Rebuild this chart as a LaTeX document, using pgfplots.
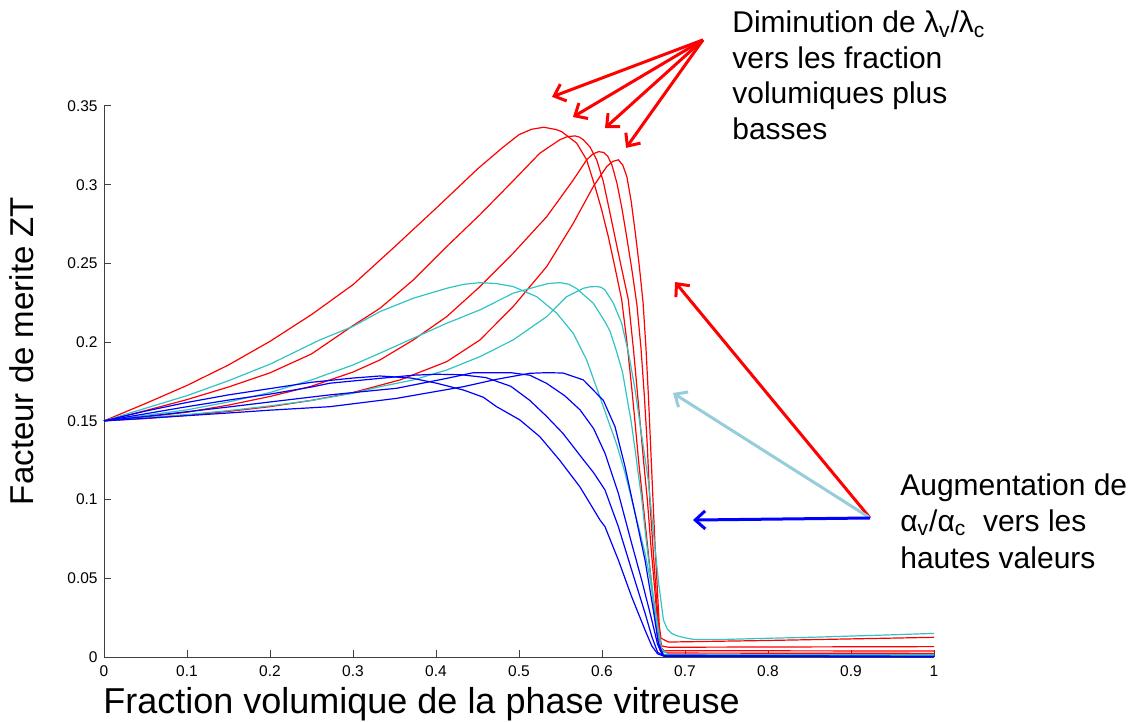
\documentclass[border=0pt]{standalone}
\usepackage{pgfplots}
\pgfplotsset{compat=1.18}
\usepackage{fontspec}
\setmainfont{Liberation Sans}
\usetikzlibrary{arrows.meta}
\definecolor{myred}{RGB}{255,0,0}
\definecolor{mycyan}{RGB}{50,195,195}
\definecolor{myblue}{RGB}{0,0,255}
\definecolor{lblue}{RGB}{150,205,220}
\newcommand\annfont{\fontsize{15bp}{18bp}\selectfont}
\begin{document}
\begin{tikzpicture}
\useasboundingbox (0,0) rectangle (570.5bp,361bp);
\begin{axis}[
  at={(52bp,32.5bp)}, anchor=south west,
  scale only axis, width=415bp, height=275.5bp,
  xmin=0, xmax=1, ymin=0, ymax=0.35,
  axis lines=left,
  axis line style={-, black!75, line width=0.5bp},
  every outer x axis line/.append style={-},
  every outer y axis line/.append style={-},
  clip=false,
  xtick={0,0.1,0.2,0.3,0.4,0.5,0.6,0.7,0.8,0.9,1},
  xticklabels={0,0.1,0.2,0.3,0.4,0.5,0.6,0.7,0.8,0.9,1},
  ytick={0,0.05,0.1,0.15,0.2,0.25,0.3,0.35},
  yticklabels={0,0.05,0.1,0.15,0.2,0.25,0.3,0.35},
  tick style={black!75, line width=0.5bp},
  major tick length=3.5bp, tick align=inside,
  ticklabel style={font=\fontsize{7.75bp}{9bp}\selectfont},
  xticklabel style={inner sep=0pt, yshift=-4bp},
  yticklabel style={inner sep=0pt, xshift=-3bp},
  every axis plot/.append style={line width=0.6bp, no markers},
]
% ---- red curves (lambda_v/lambda_c)
\addplot[myred] coordinates {(0,0.15) (0.05,0.161) (0.1,0.1725) (0.15,0.1855) (0.2,0.2005) (0.25,0.2175) (0.3,0.2365) (0.35,0.2605) (0.4,0.285) (0.45,0.31) (0.48,0.3235) (0.5,0.3318) (0.515,0.3352) (0.53,0.3365) (0.545,0.335) (0.5514,0.3337) (0.5695,0.3264) (0.5815,0.3158) (0.5916,0.2988) (0.5996,0.284) (0.6076,0.267) (0.615,0.249) (0.6237,0.227) (0.63,0.2) (0.636,0.17) (0.64,0.148) (0.644,0.125) (0.65,0.095) (0.656,0.065) (0.662,0.035) (0.667,0.012) (0.67,0.004) (0.68,0.0025) (1,0.0023)};
\addplot[myred] coordinates {(0,0.15) (0.05,0.1565) (0.1,0.1635) (0.15,0.1715) (0.2,0.1805) (0.25,0.1925) (0.3,0.2105) (0.3325,0.2215) (0.3727,0.2395) (0.4129,0.2607) (0.453,0.281) (0.493,0.3025) (0.525,0.32) (0.549,0.3285) (0.558,0.3305) (0.5675,0.331) (0.573,0.3302) (0.5775,0.3285) (0.5855,0.324) (0.5936,0.3158) (0.6016,0.302) (0.6096,0.282) (0.6197,0.2565) (0.6317,0.227) (0.638,0.195) (0.644,0.16) (0.65,0.125) (0.6546,0.1) (0.659,0.07) (0.664,0.04) (0.668,0.015) (0.671,0.006) (0.675,0.004) (1,0.0038)};
\addplot[myred] coordinates {(0,0.15) (0.05,0.1525) (0.1,0.1555) (0.15,0.16) (0.2,0.1655) (0.25,0.172) (0.3,0.181) (0.3325,0.1887) (0.3727,0.2014) (0.4129,0.2162) (0.453,0.2353) (0.493,0.2565) (0.5334,0.2797) (0.5654,0.303) (0.5815,0.3158) (0.589,0.3195) (0.596,0.321) (0.602,0.3205) (0.607,0.318) (0.612,0.3125) (0.618,0.301) (0.624,0.285) (0.63,0.266) (0.636,0.246) (0.642,0.224) (0.647,0.196) (0.651,0.166) (0.6545,0.135) (0.6575,0.1) (0.662,0.065) (0.666,0.035) (0.669,0.015) (0.672,0.007) (0.68,0.0062) (1,0.0066)};
\addplot[myred] coordinates {(0,0.15) (0.05,0.1515) (0.1,0.1535) (0.15,0.156) (0.2,0.159) (0.25,0.163) (0.3,0.168) (0.3566,0.176) (0.4129,0.1876) (0.453,0.2014) (0.493,0.2226) (0.5334,0.248) (0.5654,0.2755) (0.5895,0.2988) (0.6056,0.3115) (0.613,0.3148) (0.6197,0.3158) (0.625,0.3125) (0.63,0.305) (0.635,0.29) (0.64,0.27) (0.645,0.248) (0.6495,0.225) (0.653,0.196) (0.656,0.165) (0.6585,0.135) (0.661,0.105) (0.664,0.07) (0.667,0.04) (0.669,0.02) (0.671,0.012) (0.68,0.0095) (0.8,0.0105) (0.9,0.0115) (1,0.0125)};
% ---- cyan curves
\addplot[mycyan] coordinates {(0,0.15) (0.05,0.158) (0.1,0.166) (0.15,0.1755) (0.2,0.186) (0.26,0.2014) (0.3,0.21) (0.3325,0.2194) (0.3727,0.2279) (0.4129,0.2342) (0.433,0.2367) (0.453,0.2378) (0.473,0.2372) (0.493,0.2353) (0.5213,0.2289) (0.5454,0.2184) (0.5654,0.2056) (0.5815,0.1887) (0.5976,0.165) (0.6076,0.15) (0.6177,0.135) (0.6277,0.117) (0.6358,0.1) (0.6438,0.083) (0.6518,0.066) (0.6578,0.05) (0.663,0.032) (0.667,0.015) (0.67,0.005) (0.675,0.0015) (1,0.0012)};
\addplot[mycyan] coordinates {(0,0.15) (0.05,0.1535) (0.1,0.157) (0.15,0.162) (0.2,0.168) (0.25,0.176) (0.3,0.1855) (0.3325,0.193) (0.3727,0.2025) (0.4129,0.212) (0.453,0.2205) (0.493,0.2311) (0.5213,0.2353) (0.535,0.2372) (0.549,0.2378) (0.56,0.2368) (0.5695,0.234) (0.5895,0.2247) (0.6036,0.213) (0.6096,0.207) (0.617,0.195) (0.6247,0.181) (0.63,0.165) (0.635,0.15) (0.6398,0.132) (0.644,0.115) (0.648,0.1) (0.652,0.08) (0.6558,0.063) (0.662,0.038) (0.668,0.0175) (0.672,0.005) (0.68,0.0015) (1,0.0015)};
\addplot[mycyan] coordinates {(0,0.15) (0.05,0.152) (0.1,0.154) (0.15,0.1565) (0.2,0.1595) (0.25,0.163) (0.3,0.1675) (0.3325,0.1717) (0.3727,0.176) (0.4129,0.1823) (0.453,0.1908) (0.493,0.2014) (0.5334,0.2162) (0.5574,0.2289) (0.5775,0.2342) (0.586,0.2352) (0.594,0.2353) (0.599,0.2348) (0.6036,0.2332) (0.6137,0.2247) (0.6237,0.212) (0.632,0.193) (0.6398,0.17) (0.648,0.14) (0.6558,0.112) (0.6618,0.08) (0.668,0.048) (0.674,0.0235) (0.679,0.0175) (0.684,0.015) (0.69,0.0135) (0.7,0.0122) (0.71,0.0112) (0.75,0.0112) (0.8,0.0119) (0.85,0.0125) (0.9,0.0133) (0.95,0.0141) (1,0.015)};
% ---- blue curves
\addplot[myblue] coordinates {(0,0.15) (0.05,0.1562) (0.1,0.1617) (0.15,0.1665) (0.2,0.1705) (0.25,0.1745) (0.3,0.1772) (0.3325,0.1785) (0.37,0.1772) (0.4,0.174) (0.433,0.1696) (0.457,0.165) (0.473,0.159) (0.501,0.1506) (0.525,0.14) (0.549,0.125) (0.5735,0.108) (0.5976,0.087) (0.6036,0.0828) (0.6197,0.0616) (0.6357,0.0383) (0.6518,0.0172) (0.66,0.007) (0.667,0.002) (0.675,0.0005) (1,0.0003)};
\addplot[myblue] coordinates {(0,0.15) (0.05,0.1545) (0.1,0.159) (0.15,0.1632) (0.2,0.167) (0.25,0.1715) (0.272,0.1739) (0.3325,0.177) (0.3727,0.179) (0.4,0.1796) (0.43,0.1793) (0.46,0.1775) (0.49,0.172) (0.513,0.163) (0.533,0.153) (0.553,0.142) (0.578,0.125) (0.59,0.117) (0.6036,0.1061) (0.6197,0.0828) (0.6357,0.0553) (0.6518,0.028) (0.66,0.013) (0.667,0.003) (0.675,0.0005) (1,0.0003)};
\addplot[myblue] coordinates {(0,0.15) (0.05,0.1528) (0.1,0.1558) (0.15,0.1588) (0.2,0.162) (0.272,0.1665) (0.3526,0.1707) (0.413,0.177) (0.445,0.1806) (0.49,0.1806) (0.513,0.179) (0.533,0.1739) (0.555,0.166) (0.5735,0.157) (0.59,0.145) (0.6036,0.1294) (0.6197,0.104) (0.6357,0.0722) (0.6478,0.0489) (0.66,0.0235) (0.667,0.008) (0.673,0.001) (1,0.0003)};
\addplot[myblue] coordinates {(0,0.15) (0.05,0.1516) (0.1,0.1533) (0.15,0.155) (0.2,0.1568) (0.272,0.159) (0.3526,0.1643) (0.433,0.1717) (0.473,0.1764) (0.513,0.1802) (0.533,0.1806) (0.553,0.1804) (0.5775,0.176) (0.6016,0.163) (0.6157,0.1463) (0.6277,0.121) (0.6398,0.0913) (0.6518,0.0616) (0.6618,0.0299) (0.668,0.0087) (0.674,0.001) (1,0.0003)};
% ---- axis labels
\node[anchor=base west, inner sep=0pt, font=\fontsize{18bp}{20bp}\selectfont] at (axis cs:-0.0012,-0.0356) {Fraction volumique de la phase vitreuse};
\node[rotate=90, anchor=center, inner sep=0pt, font=\fontsize{16.5bp}{18bp}\selectfont] at (axis cs:-0.0988,0.1944) {Facteur de merite ZT};
% ---- annotations
\node[anchor=base west, inner sep=0pt, font=\annfont] at (axis cs:0.7566,0.3964) {Diminution de λ\textsubscript{v}/λ\textsubscript{c}};
\node[anchor=base west, inner sep=0pt, font=\annfont] at (axis cs:0.7566,0.3739) {vers les fraction};
\node[anchor=base west, inner sep=0pt, font=\annfont] at (axis cs:0.7566,0.3513) {volumiques plus};
\node[anchor=base west, inner sep=0pt, font=\annfont] at (axis cs:0.7566,0.3285) {basses};
\node[anchor=base west, inner sep=0pt, font=\annfont] at (axis cs:0.959,0.1023) {Augmentation de};
\node[anchor=base west, inner sep=0pt, font=\annfont] at (axis cs:0.959,0.0796) {α\textsubscript{v}/α\textsubscript{c}\ \ vers les};
\node[anchor=base west, inner sep=0pt, font=\annfont] at (axis cs:0.959,0.0564) {hautes valeurs};
% ---- arrows
\draw[myred, line width=1.5bp, -{Straight Barb[length=5bp,width=9bp]}] (axis cs:0.7217,0.392) -- (axis cs:0.5398,0.3558);
\draw[myred, line width=1.5bp, -{Straight Barb[length=5bp,width=9bp]}] (axis cs:0.7217,0.392) -- (axis cs:0.565,0.343);
\draw[myred, line width=1.5bp, -{Straight Barb[length=5bp,width=9bp]}] (axis cs:0.7217,0.392) -- (axis cs:0.6036,0.336);
\draw[myred, line width=1.5bp, -{Straight Barb[length=5bp,width=9bp]}] (axis cs:0.7217,0.392) -- (axis cs:0.629,0.3234);
\draw[myred, line width=1.5bp, -{Straight Barb[length=5bp,width=9bp]}] (axis cs:0.923,0.0883) -- (axis cs:0.688,0.2382);
\draw[lblue, line width=1.5bp, -{Straight Barb[length=5bp,width=9bp]}] (axis cs:0.923,0.0883) -- (axis cs:0.6855,0.1677);
\draw[myblue, line width=1.5bp, -{Straight Barb[length=5bp,width=9bp]}] (axis cs:0.923,0.0883) -- (axis cs:0.7096,0.087);
\end{axis}
\end{tikzpicture}
\end{document}
